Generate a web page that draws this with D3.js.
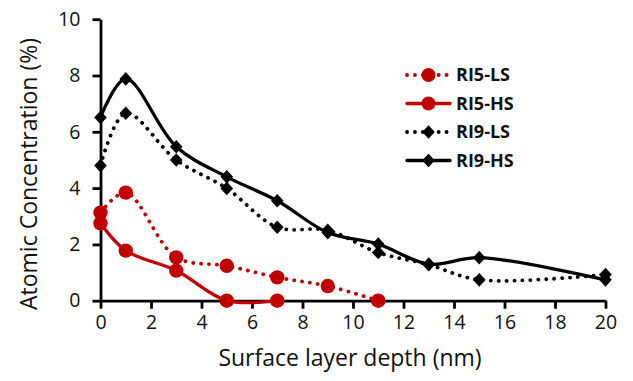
<!DOCTYPE html>
<html><head><meta charset="utf-8">
<script src="https://cdn.jsdelivr.net/npm/d3@7"></script>
<style>
html,body{margin:0;padding:0;background:#fff;}
svg{display:block;font-family:"Open Sans",sans-serif;}
</style></head>
<body>
<svg id="c" width="633" height="381"></svg>
<script>
const xTicks = [0,2,4,6,8,10,12,14,16,18,20];
const yTicks = [0,2,4,6,8,10];
const seriesNames = ["RI5-LS","RI5-HS","RI9-LS","RI9-HS"];
const ri5LS = [[0,3.13],[1,3.84],[3,1.54],[5,1.24],[7,0.83],[9,0.52],[11,0]];
const ri5HS = [[0,2.75],[1,1.78],[3,1.07],[5,0],[7,0]];
const ri9LS = [[0,4.8],[1,6.66],[3,5.0],[5,3.99],[7,2.61],[9,2.5],[11,1.71],[13,1.28],[15,0.74],[20,0.93]];
const ri9HS = [[0,6.51],[1,7.88],[3,5.47],[5,4.4],[7,3.55],[9,2.42],[11,2.01],[13,1.3],[15,1.53],[20,0.74]];

const series = [
  {name:seriesNames[0], data:ri5LS, color:"#c00000", dotted:true, marker:"circle"},
  {name:seriesNames[1], data:ri5HS, color:"#c00000", dotted:false, marker:"circle"},
  {name:seriesNames[2], data:ri9LS, color:"#000000", dotted:true, marker:"diamond"},
  {name:seriesNames[3], data:ri9HS, color:"#000000", dotted:false, marker:"diamond"}
];

const svg = d3.select("#c");
const x = d3.scaleLinear().domain([0,20]).range([100.5,605.5]);
const y = d3.scaleLinear().domain([0,10]).range([300.7,19.2]);

// axes
const xAxis = svg.append("g").attr("transform",`translate(0,${y(0)})`)
  .call(d3.axisBottom(x).tickValues(xTicks).tickSize(8).tickPadding(6).tickSizeOuter(0));
const yAxis = svg.append("g").attr("transform",`translate(${x(0)},0)`)
  .call(d3.axisLeft(y).tickValues(yTicks).tickSize(8).tickPadding(12).tickSizeOuter(0));
[xAxis,yAxis].forEach(g=>{
  g.select(".domain").attr("stroke","#000").attr("stroke-width",2.8);
  g.selectAll(".tick line").attr("stroke","#000").attr("stroke-width",2.8);
  g.selectAll(".tick text").attr("fill","#111").style("font-size","19.5px").style("font-family","'Open Sans',sans-serif");
});

// lines
const line = d3.line().x(d=>x(d[0])).y(d=>y(d[1])).curve(d3.curveCatmullRom.alpha(0.5));
const diamond = (cx,cy,w,h)=>`M${cx},${cy-h}L${cx+w},${cy}L${cx},${cy+h}L${cx-w},${cy}Z`;

series.forEach(s=>{
  const g = svg.append("g");
  g.append("path").attr("d",line(s.data)).attr("fill","none")
    .attr("stroke",s.color).attr("stroke-width",s.dotted?3.8:3.3)
    .attr("stroke-linecap","round")
    .attr("stroke-dasharray",s.dotted?"0.1 7.8":null);
  if(s.marker==="circle"){
    g.selectAll("circle").data(s.data).join("circle")
      .attr("cx",d=>x(d[0])).attr("cy",d=>y(d[1])).attr("r",7.2).attr("fill",s.color);
  } else {
    g.selectAll("path.m").data(s.data).join("path").attr("class","m")
      .attr("d",d=>diamond(x(d[0]),y(d[1]),6.3,6.8)).attr("fill",s.color);
  }
});

// legend
const lg = svg.append("g");
series.forEach((s,i)=>{
  const cy = 75 + i*28.5;
  lg.append("line").attr("x1",407).attr("x2",450).attr("y1",cy).attr("y2",cy)
    .attr("stroke",s.color).attr("stroke-width",s.dotted?3.8:3.3)
    .attr("stroke-linecap","round").attr("stroke-dasharray",s.dotted?"0.1 7.8":null);
  if(s.marker==="circle") lg.append("circle").attr("cx",428.5).attr("cy",cy).attr("r",7).attr("fill",s.color);
  else lg.append("path").attr("d",diamond(428.5,cy,6.3,6.8)).attr("fill",s.color);
  lg.append("text").attr("x",456).attr("y",cy).attr("dy","0.36em")
    .style("font-size","18px").style("font-weight","700").attr("fill","#111").text(s.name);
});

// titles
svg.append("text").attr("x",350).attr("y",366).attr("text-anchor","middle")
  .style("font-size","23px").attr("fill","#111").text("Surface layer depth (nm)");
svg.append("text").attr("transform","translate(37,174) rotate(-90)").attr("text-anchor","middle")
  .style("font-size","23px").attr("fill","#111").text("Atomic Concentration (%)");
</script>
</body></html>
